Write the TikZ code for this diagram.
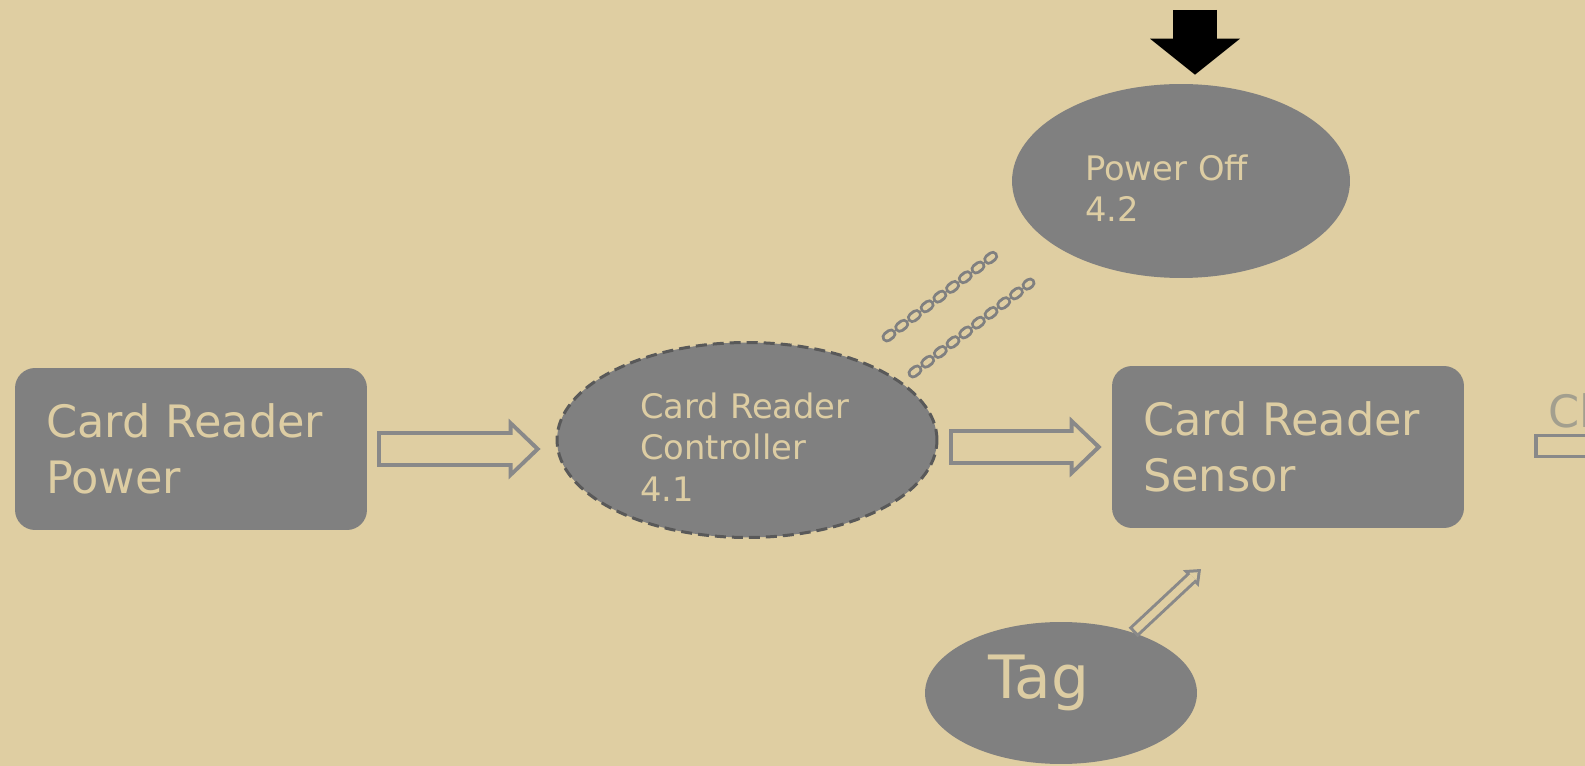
\documentclass[tikz,border=0pt]{standalone}
\usepackage{fontspec}
\setmainfont{DejaVu Sans}
\usetikzlibrary{shapes.geometric,arrows.meta}
\definecolor{bg}{HTML}{DFCEA2}
\definecolor{shade}{HTML}{808080}
\definecolor{label}{HTML}{DDCDA3}
\definecolor{rim}{HTML}{898989}
\definecolor{dashrim}{HTML}{595959}
\definecolor{faint}{HTML}{A39F8E}

\begin{document}
\begin{tikzpicture}[x=0.02cm, y=-0.02cm,
  every node/.style={inner sep=0pt, text=label, align=left},
  store/.style={fill=shade, rounded corners=0.4cm, minimum width=7.04cm, minimum height=3.24cm,
    text width=5.8cm, font=\fontsize{25.4}{31.8}\selectfont},
  proc/.style={ellipse, fill=shade, font=\fontsize{19.2}{23.6}\selectfont},
  outerarr/.style n args={3}{draw=rim, line width=#1, -{Triangle[length=#2, width=#3, line width=0pt]}},
  innerarr/.style n args={4}{draw=bg, line width=#1, shorten <=#4, -{Triangle[length=#2, width=#3, line width=0pt]}},
  chain/.style={draw=shade, line width=0.06cm, double=bg, double distance=0.1cm, line cap=round,
    dash pattern=on 0.1cm off 0.22cm},
  block/.style={draw=black, line width=0.88cm, shorten >=0.18cm,
    -{Triangle[length=0.72cm, width=1.8cm, line width=0pt]}}
]
  \useasboundingbox (0,0) rectangle (1585,766);
  \clip (0,0) rectangle (1585,766);
  \fill[bg] (0,0) rectangle (1585,766);

  % stores and processes
  \node[store] (power) at (191,449) {Card Reader\\Power};
  \node[store] (sensor) at (1288,447) {Card Reader\\Sensor};
  \node[proc, minimum width=7.6cm, minimum height=3.9cm, text width=4.28cm, text height=22.6pt,
    draw=dashrim, line width=0.06cm, dash pattern=on 0.22cm off 0.12cm] (ctrl) at (747,440)
    {Card Reader\\Controller\\4.1};
  \node[proc, minimum width=6.76cm, minimum height=3.88cm, text width=3.84cm, text height=22.6pt]
    (poweroff) at (1181,181) {Power Off\\4.2};
  \node[proc, minimum width=5.44cm, minimum height=2.84cm, text width=2.92cm, text height=13.4pt,
    font=\fontsize{34}{40}\selectfont] (tag) at (1061,693) {Tag};
  \node[anchor=base west, text=faint, font=\fontsize{25.4}{31.8}\selectfont] (clab) at (1548,428) {Cl};

  \coordinate (pwrtop) at (1195,10);
  \coordinate (c1a) at (887,337);
  \coordinate (c1b) at (997,253);
  \coordinate (c2a) at (913,373);
  \coordinate (c2b) at (1030,283);
  \coordinate (tagend) at (1201,569);
  \coordinate (clout) at (1534,446);
  \coordinate (clend) at (1720,446);
  \coordinate (a1s) at ([xshift=0.2cm]power.east);
  \coordinate (a1e) at ([xshift=-0.3cm]ctrl.west |- power.east);
  \coordinate (a2s) at ([xshift=0.22cm]ctrl.east |- sensor.west);
  \coordinate (a2e) at ([xshift=-0.2cm]sensor.west);

  % hollow flow arrows
  \foreach \s/\e in {a1s/a1e, a2s/a2e}{
    \draw[outerarr={0.72cm}{0.64cm}{1.22cm}] (\s) -- (\e);
    \draw[innerarr={0.56cm}{0.44cm}{0.85cm}{0.08cm}, shorten >=0.12cm] (\s) -- (\e);
  }
  \draw[outerarr={0.26cm}{0.28cm}{0.46cm}] (tag.40) -- (tagend);
  \draw[innerarr={0.14cm}{0.13cm}{0.21cm}{0.06cm}, shorten >=0.094cm] (tag.40) -- (tagend);
  \draw[outerarr={0.5cm}{0.5cm}{0.9cm}] (clout) -- (clend);
  \draw[innerarr={0.36cm}{0.32cm}{0.62cm}{0.07cm}, shorten >=0.1cm] (clout) -- (clend);

  % control flows
  \draw[chain] (c1a) -- (c1b);
  \draw[chain] (c2a) -- (c2b);

  \draw[block] (pwrtop) -- (pwrtop |- poweroff.north);
\end{tikzpicture}
\end{document}
